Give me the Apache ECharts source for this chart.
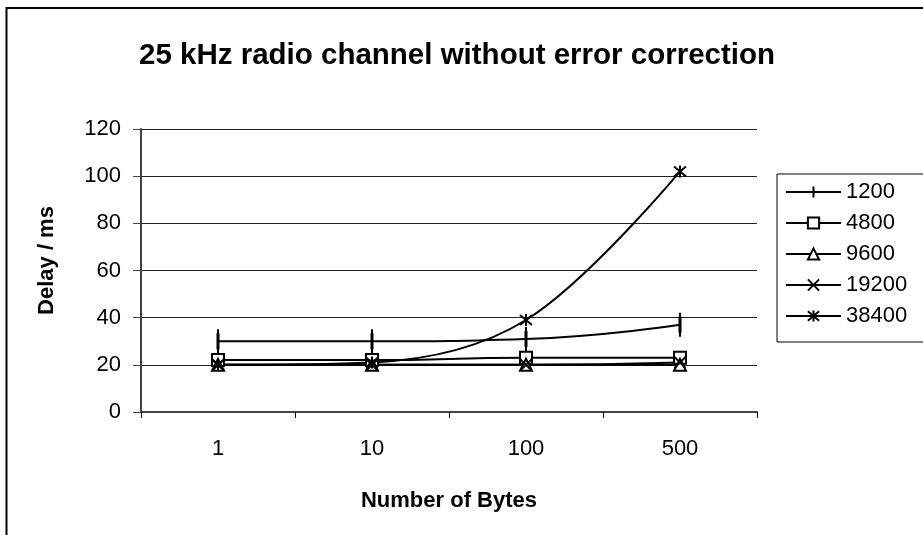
<!DOCTYPE html>
<html>
<head>
<meta charset="utf-8">
<script src="https://cdn.jsdelivr.net/npm/echarts@6/dist/echarts.min.js"></script>
<style>
  html, body { margin: 0; padding: 0; background: #fff; }
  #chart { width: 923px; height: 535px; }
</style>
</head>
<body>
<div id="chart"></div>
<script>
// Packet sizes on the category axis
const categories = ['1', '10', '100', '500'];

// Measured delay (ms) for each baud rate
const s1200  = [30, 30, 31, 37];
const s4800  = [22, 22, 23, 23];
const s9600  = [20, 20, 20, 20];
const s19200 = [20, 20, 20, 21];
const s38400 = [20, 21, 39, 102];

const seriesNames = ['1200', '4800', '9600', '19200', '38400'];
const yTicks = [0, 20, 40, 60, 80, 100, 120];

const FONT = '"Liberation Sans", Arial, sans-serif';
const BLACK = '#000';

function lineSeries(name, data, symbol, size, fill, borderWidth, smooth) {
  return {
    name: name,
    type: 'line',
    data: data,
    smooth: smooth === undefined ? true : smooth,
    symbol: symbol,
    symbolSize: size,
    showAllSymbol: true,
    lineStyle: { color: BLACK, width: 2 },
    itemStyle: { color: fill, borderColor: BLACK, borderWidth: borderWidth || 2 },
    emphasis: { disabled: true },
    z: 3
  };
}

const chart = echarts.init(document.getElementById('chart'), null, { renderer: 'canvas' });

chart.setOption({
  animation: false,
  backgroundColor: '#fff',
  title: {
    text: '25 kHz radio channel without error correction',
    left: 139,
    top: 41,
    padding: 0,
    textStyle: { fontFamily: FONT, fontSize: 29.5, fontWeight: 'bold', color: BLACK }
  },
  graphic: [{
    type: 'rect',
    shape: { x: 6.5, y: 8, width: 1000, height: 1000 },
    style: { fill: 'none', stroke: BLACK, lineWidth: 2 },
    silent: true,
    z: 0
  }],
  legend: {
    orient: 'vertical',
    left: 777,
    top: 174,
    padding: [7, 40, 15, 8],
    itemGap: 9,
    itemWidth: 55,
    itemHeight: 14,
    borderColor: BLACK,
    borderWidth: 1,
    data: seriesNames,
    textStyle: { fontFamily: FONT, fontSize: 22, color: BLACK }
  },
  grid: { left: 141, right: 166, top: 129, bottom: 123 },
  xAxis: {
    type: 'category',
    data: categories,
    boundaryGap: true,
    name: 'Number of Bytes',
    nameLocation: 'middle',
    nameGap: 78,
    nameTextStyle: { fontFamily: FONT, fontSize: 22, fontWeight: 'bold', color: BLACK },
    axisLine: { lineStyle: { color: '#444', width: 2 } },
    axisTick: { show: true, length: 6, lineStyle: { color: BLACK } },
    axisLabel: { fontFamily: FONT, fontSize: 22, color: BLACK, margin: 26 }
  },
  yAxis: {
    type: 'value',
    min: yTicks[0],
    max: yTicks[yTicks.length - 1],
    interval: 20,
    name: 'Delay / ms',
    nameLocation: 'middle',
    nameGap: 83,
    nameTextStyle: {
      fontFamily: FONT, fontSize: 22, fontWeight: 'bold', color: BLACK,
      padding: [0, 0, 0, 20]
    },
    axisLine: { show: true, lineStyle: { color: '#444', width: 2 } },
    axisTick: { show: true, length: 8, lineStyle: { color: '#444' } },
    axisLabel: { fontFamily: FONT, fontSize: 22, color: BLACK, margin: 20 },
    splitLine: { show: true, lineStyle: { color: '#222', width: 1 } }
  },
  series: [
    lineSeries('1200', s1200, 'path://M0,0L0,16M-1,8L1,8', [2, 16], BLACK, 3),
    lineSeries('4800', s4800, 'rect', 12, '#fff'),
    lineSeries('9600', s9600, 'triangle', 12, '#fff'),
    lineSeries('19200', s19200, 'path://M0,0L10,10M10,0L0,10', 11, BLACK),
    lineSeries('38400', s38400, 'path://M0,0L10,10M10,0L0,10M5,-1L5,11', 12, BLACK, 2, 0.35)
  ]
});
</script>
</body>
</html>
